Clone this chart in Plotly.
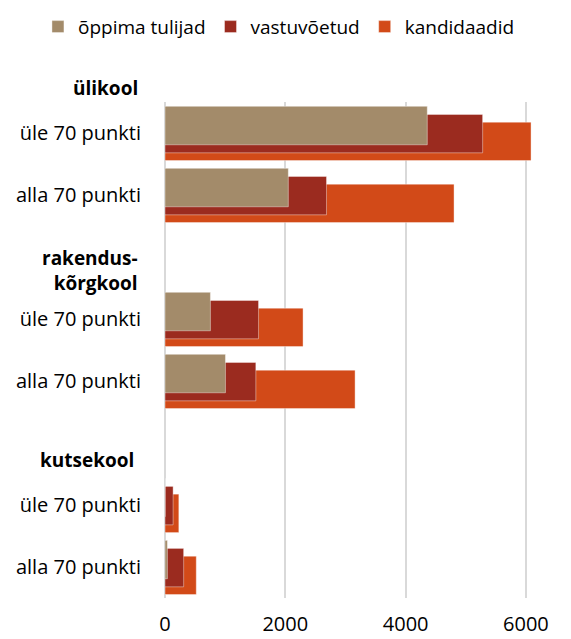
import plotly.graph_objects as go

# categories (numeric positions with header gaps)
positions = [0, 1, 3, 4, 6, 7]
row_labels = ["üle 70 punkti", "alla 70 punkti", "üle 70 punkti", "alla 70 punkti", "üle 70 punkti", "alla 70 punkti"]
group_labels = ["ülikool", "rakendus-<br>kõrgkool", "kutsekool"]
group_label_pos = [1.028, 0.661, 0.278]   # paper y

oppima_tulijad = [4360, 2050, 755, 1005, 0, 40]
vastuvoetud = [5280, 2685, 1555, 1510, 135, 310]
kandidaadid = [6085, 4805, 2295, 3160, 230, 520]

x_ticks = [0, 2000, 4000, 6000]

FONT = "Open Sans"
C_TAN = "#A38B6A"
C_RED = "#9B2B1F"
C_ORG = "#D24A18"

fig = go.Figure()
W = 0.62
fig.add_trace(go.Bar(y=positions, x=kandidaadid, orientation="h", name="kandidaadid",
                     marker=dict(color=C_ORG, line=dict(width=0.8, color="rgba(255,255,255,0.5)")),
                     width=W, offset=-0.175))
fig.add_trace(go.Bar(y=positions, x=vastuvoetud, orientation="h", name="vastuvõetud",
                     marker=dict(color=C_RED, line=dict(width=0.8, color="rgba(255,255,255,0.5)")),
                     width=W, offset=-0.30))
fig.add_trace(go.Bar(y=positions, x=oppima_tulijad, orientation="h", name="õppima tulijad",
                     marker=dict(color=C_TAN, line=dict(width=0.8, color="rgba(255,255,255,0.5)")),
                     width=W, offset=-0.43))

for lbl, yp in zip(group_labels, group_label_pos):
    fig.add_annotation(text="<b>" + lbl + "</b>", xref="paper", x=0, yref="paper", y=yp,
                       xanchor="right", yanchor="middle", xshift=-25 if lbl != "kutsekool" else -29,
                       showarrow=False, align="right",
                       font=dict(family=FONT, size=19, color="#000"))

fig.update_layout(
    width=563, height=631,
    margin=dict(l=157, r=21, t=94, b=41, autoexpand=False),
    paper_bgcolor="white", plot_bgcolor="white",
    barmode="overlay",
    font=dict(family=FONT, size=18, color="#000"),
    legend=dict(orientation="h", traceorder="reversed", xref="paper", yref="paper",
                x=-0.33, y=1.19, xanchor="left", yanchor="top",
                font=dict(family=FONT, size=19), itemwidth=30, tracegroupgap=0),
    showlegend=True,
)
fig.update_xaxes(range=[0, 6400], tickvals=x_ticks, showgrid=True, gridcolor="#D9D9D9", gridwidth=1.5,
                 zeroline=True, zerolinecolor="#D9D9D9", zerolinewidth=2, showline=False,
                 ticks="", ticklabelstandoff=12, tickfont=dict(family=FONT, size=20), automargin=False)
fig.update_yaxes(range=[7.5, -0.5], tickvals=positions, ticktext=row_labels, showgrid=False,
                 zeroline=False, showline=False, ticks="", ticklabelstandoff=23,
                 tickfont=dict(family=FONT, size=20), automargin=False)

fig.write_html("out.html")
